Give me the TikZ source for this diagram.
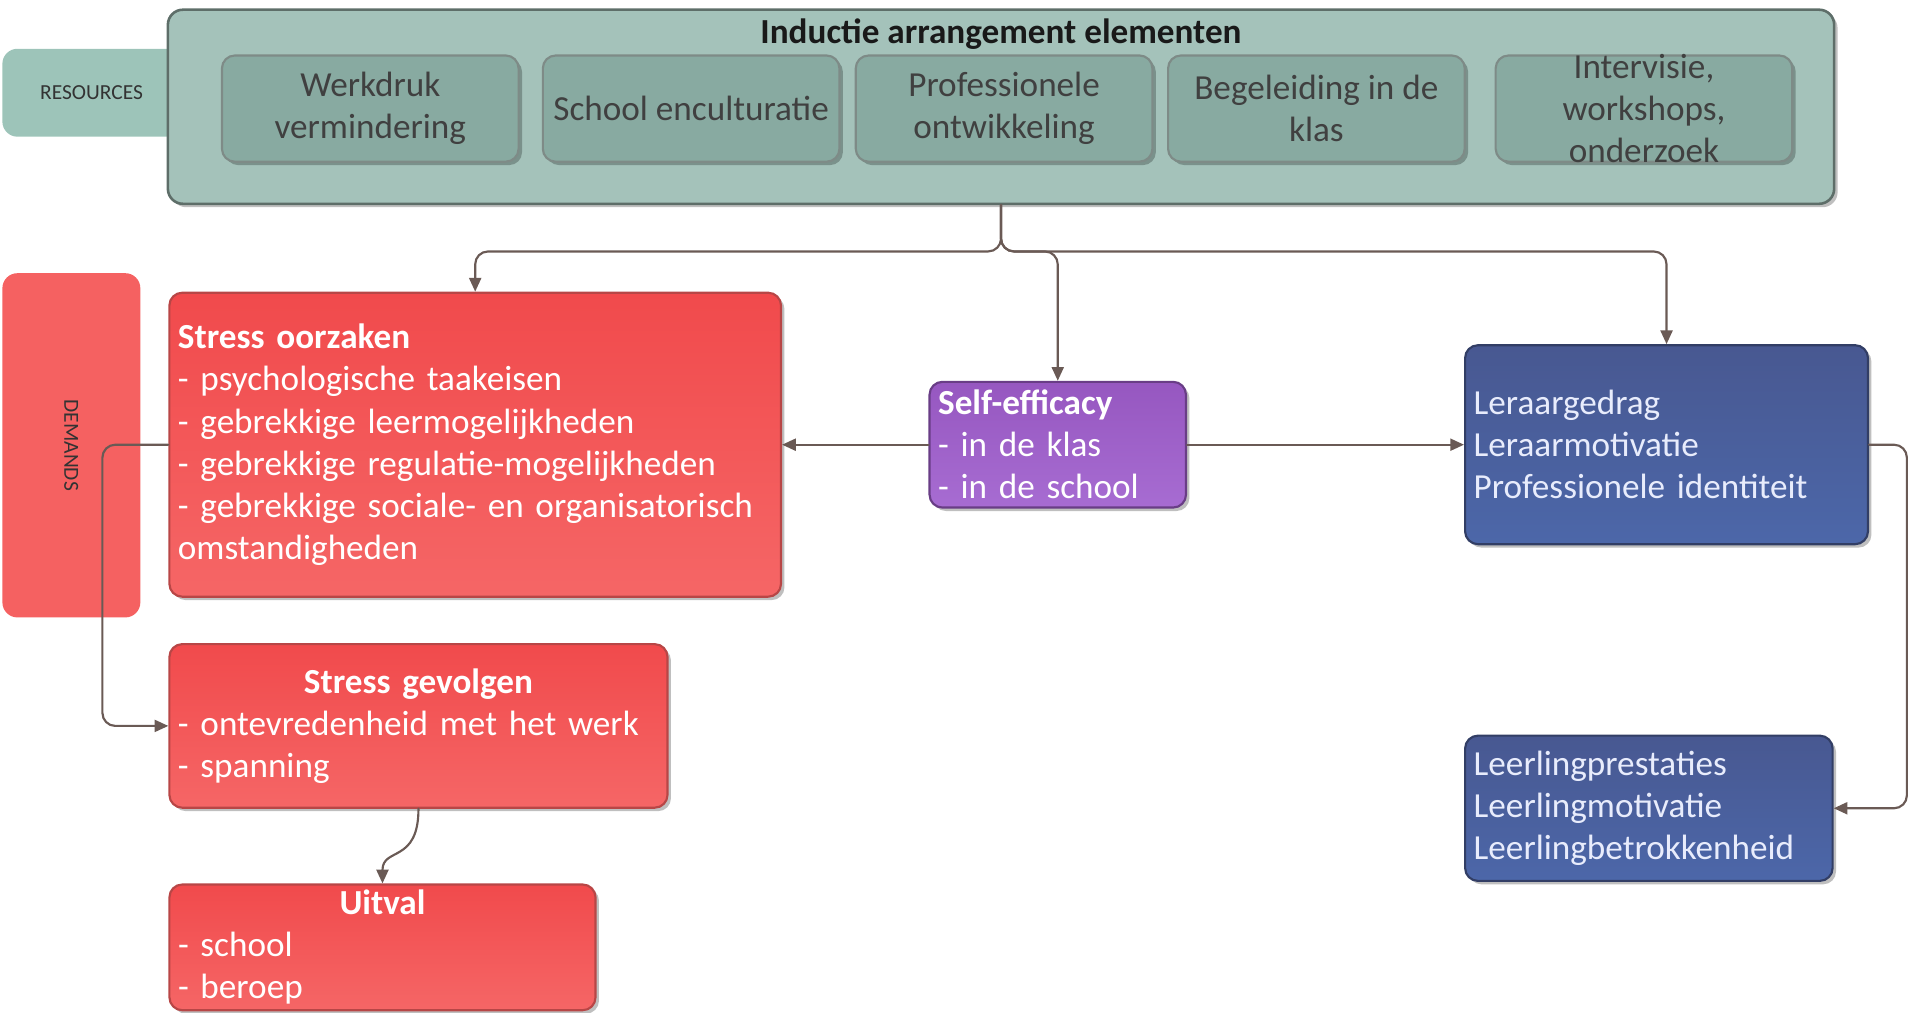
\documentclass[tikz,border=0pt]{standalone}
\usepackage{fontspec}
\setmainfont{Carlito}
\usetikzlibrary{arrows.meta,shadows,positioning}
\definecolor{tabgreen}{HTML}{9DC4B9}
\definecolor{maingreen}{HTML}{A4C2BA}
\definecolor{innergreen}{HTML}{88AAA1}
\definecolor{greenline}{HTML}{5E6E69}
\definecolor{redA}{HTML}{F14A4C}
\definecolor{redB}{HTML}{F56666}
\definecolor{redline}{HTML}{B84646}
\definecolor{purpleA}{HTML}{9657C0}
\definecolor{purpleB}{HTML}{A76CD2}
\definecolor{blueA}{HTML}{485891}
\definecolor{blueB}{HTML}{4C67A9}
\definecolor{connline}{HTML}{6A5A55}
\definecolor{lighttext}{HTML}{E8ECFC}
\begin{document}
\begin{tikzpicture}[x=0.01cm, y=-0.01cm, font=\fontsize{8.2}{9.8}\selectfont, line join=round, line cap=round,
	>={Triangle[length=3.2pt,width=2.8pt]},
	shad/.style={drop shadow={shadow xshift=0.8pt, shadow yshift=-0.8pt, opacity=.25, fill=black}},
	tab/.style={rounded corners=3.5pt, inner sep=0pt, font=\fontsize{5}{6}\selectfont, text=black!80},
	innerbox/.style={draw=greenline!80, line width=0.5pt, fill=innergreen, rounded corners=3pt, shad, text=black!75, align=center, minimum width=2.43cm, minimum height=0.87cm, inner sep=0pt},
	redbox/.style={draw=redline, line width=0.5pt, top color=redA, bottom color=redB, rounded corners=3pt, shad, text=white, align=left, inner xsep=2pt, inner ysep=0pt},
	purplebox/.style={draw=purpleA!70!black, line width=0.5pt, top color=purpleA, bottom color=purpleB, rounded corners=3pt, shad, text=white, align=left, inner xsep=2pt, inner ysep=0pt},
	bluebox/.style={draw=blueA!70!black, line width=0.5pt, top color=blueA, bottom color=blueB, rounded corners=3pt, shad, text=lighttext, align=left, inner xsep=2pt, inner ysep=0pt},
	conn/.style={draw=connline, line width=0.5pt, rounded corners=3pt}]
	\useasboundingbox (0,0) rectangle (1568,830);
	% resources
	\node[tab, fill=tabgreen, minimum width=1.46cm, minimum height=0.72cm] (resources) at (75,76) {RESOURCES};
	\node[draw=greenline, line width=0.6pt, fill=maingreen, rounded corners=3.5pt, shad, minimum width=13.65cm, minimum height=1.59cm] (inductie) at (820.5,87.5) {};
	\node[font=\fontsize{8.2}{9.8}\selectfont\bfseries, text=black!90] (titel) at (820.5,28) {Inductie arrangement elementen};
	\node[innerbox] (werkdruk) at (303.5,89) {Werkdruk\\vermindering};
	\node[innerbox] (school) at (566.5,89) {School enculturatie};
	\node[innerbox] (profont) at (823,89) {Professionele\\ontwikkeling};
	\node[innerbox] (begeleiding) at (1079,89) {Begeleiding in de\\klas};
	\node[innerbox, inner ysep=-4pt] (intervisie) at (1347.5,89) {Intervisie,\\workshops,\\onderzoek};
	% demands
	\node[tab, fill=redB!95!red, minimum width=1.13cm, minimum height=2.82cm] (demands) at (58.5,365) {};
	\node[rotate=-90, font=\fontsize{5}{6}\selectfont, text=black!80] (demtxt) at (58.5,365) {DEMANDS};
	\node[redbox, minimum height=2.49cm, text width=4.87cm] (oorzaak) at (389.5,364.5)
		{\textbf{Stress oorzaken}\\- psychologische taakeisen\\- gebrekkige leermogelijkheden\\- gebrekkige regulatie-mogelijkheden\\- gebrekkige sociale- en organisatorisch\\omstandigheden};
	\node[purplebox, minimum height=1.03cm, text width=1.96cm] (zelf) at (867,364.5)
		{\textbf{Self-efficacy}\\- in de klas\\- in de school};
	\node[bluebox, minimum height=1.63cm, text width=3.16cm] (leraar) at (1366,364.5)
		{Leraargedrag\\Leraarmotivatie\\Professionele identiteit};
	\node[redbox, minimum height=1.34cm, text width=3.94cm] (gevolg) at (343,595)
		{\hfill\textbf{Stress gevolgen}\hfill\mbox{}\\- ontevredenheid met het werk\\- spanning};
	\node[redbox, minimum height=1.03cm, text width=3.35cm] (uitval) at (313.5,776.5)
		{\hfill\textbf{Uitval}\hfill\mbox{}\\- school\\- beroep};
	\node[bluebox, minimum height=1.19cm, text width=2.87cm] (leerling) at (1351.5,662.5)
		{Leerlingprestaties\\Leerlingmotivatie\\Leerlingbetrokkenheid};
	% connectors
	\draw[conn,->] (inductie.south) -- ++(0,38) -| (oorzaak.north);
	\draw[conn,->] (inductie.south) -- ++(0,38) -| (zelf.north);
	\draw[conn,->] (inductie.south) -- ++(0,38) -| (leraar.north);
	\draw[conn,->] (zelf.west) -- (oorzaak.east);
	\draw[conn,->] (zelf.east) -- (leraar.west);
	\draw[conn,->] (leraar.east) -- ++(31,0) |- (leerling.east);
	\draw[conn,->] (oorzaak.west) -- ++(-54,0) |- (gevolg.west);
	\draw[conn,->] (gevolg.south) .. controls +(0,45) and +(0,-30) .. (uitval.north);
\end{tikzpicture}
\end{document}
